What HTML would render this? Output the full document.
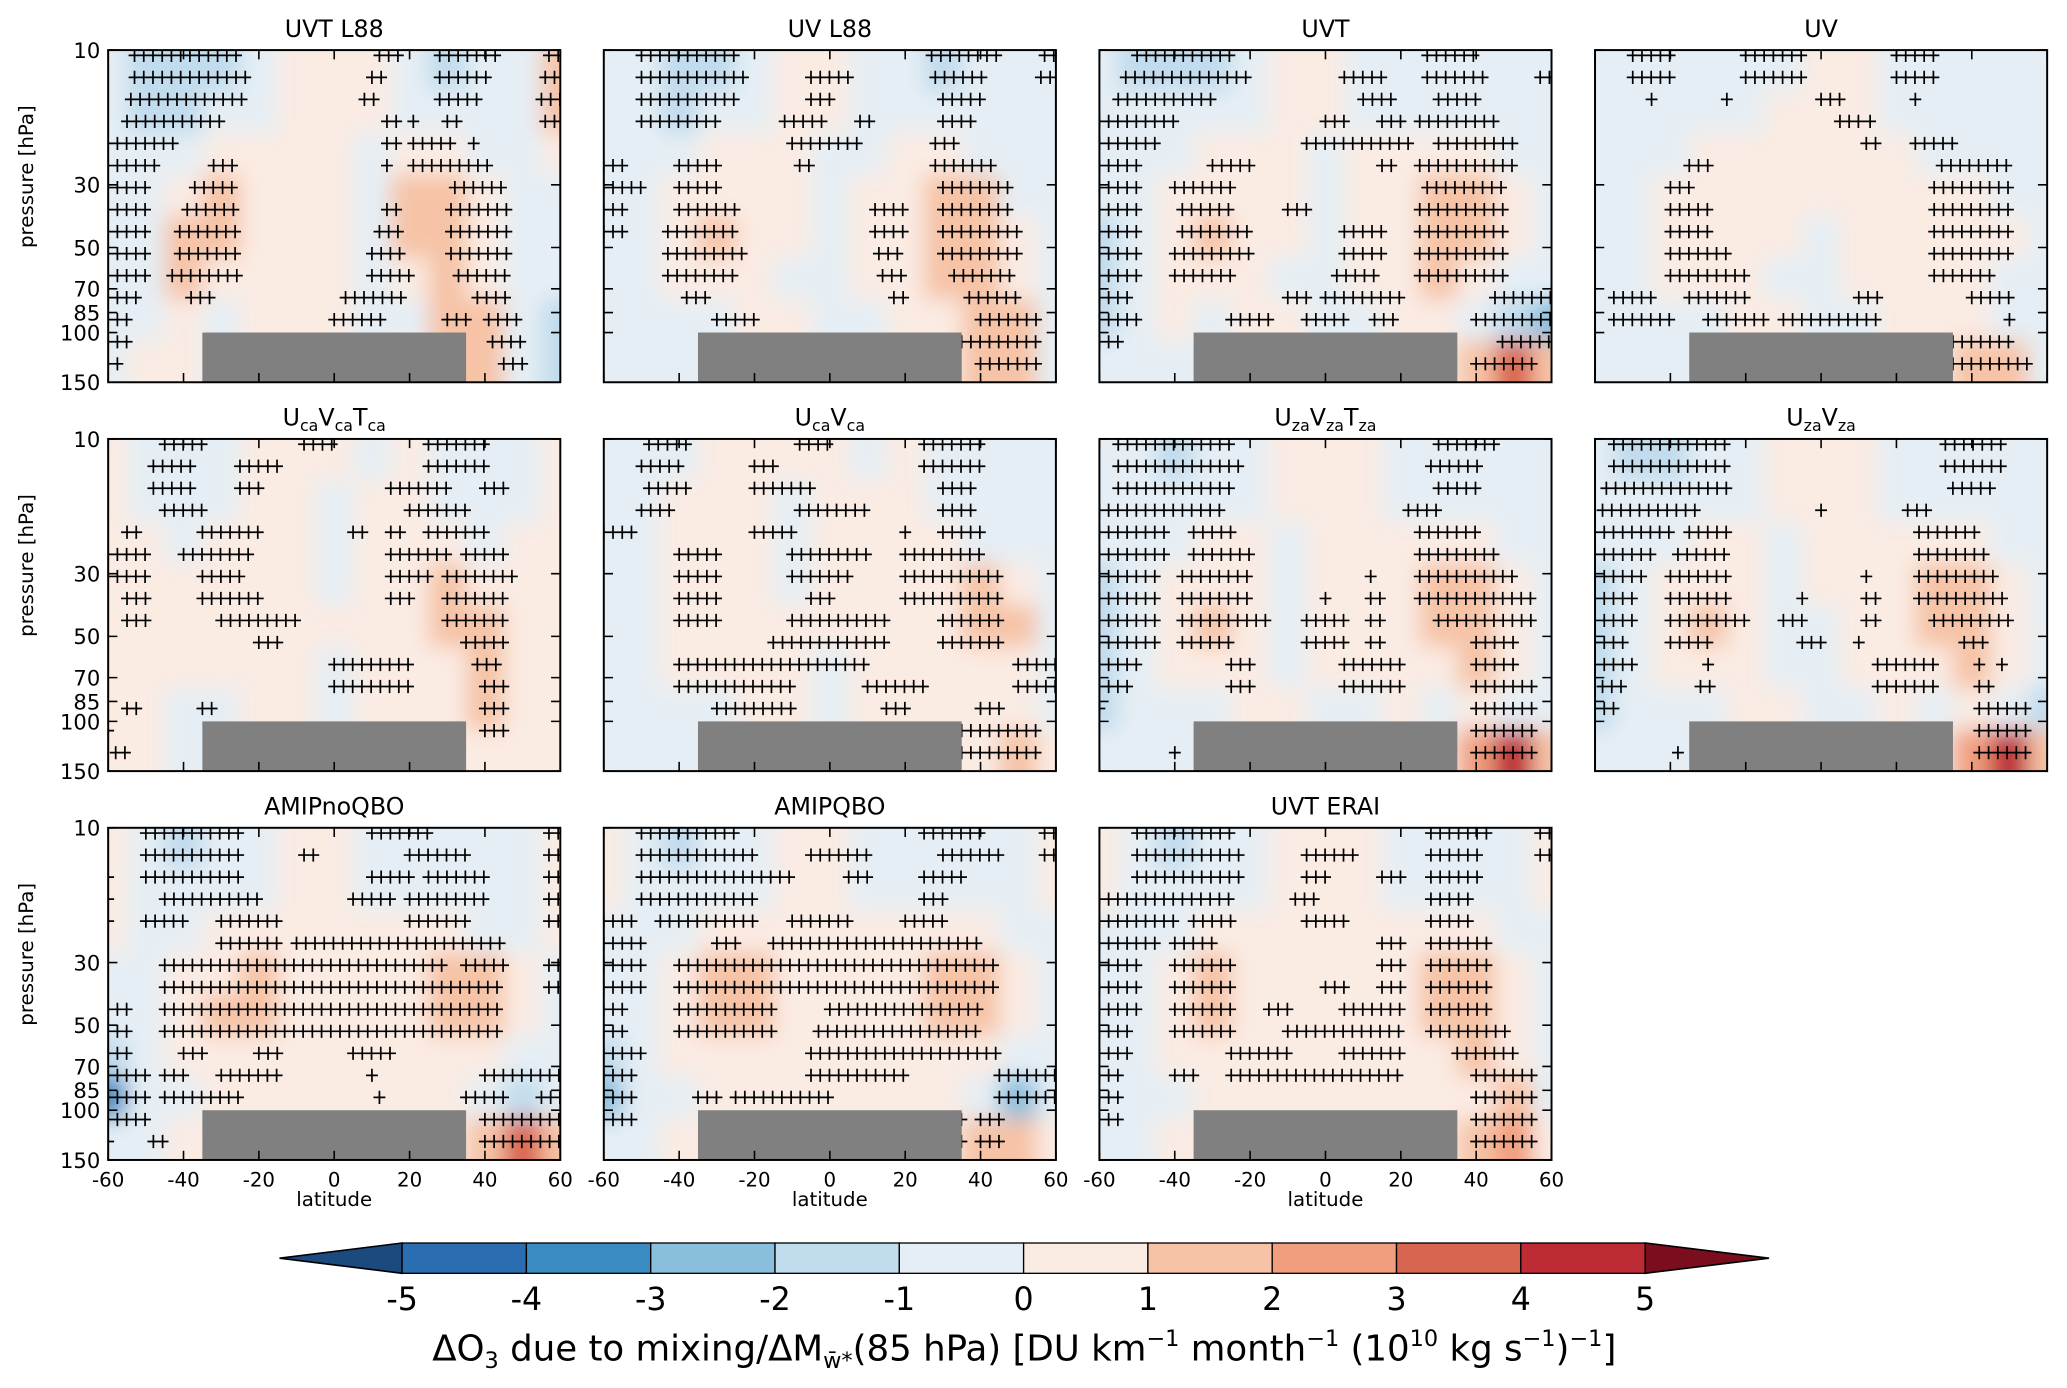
<!DOCTYPE html>
<html><head><meta charset="utf-8"><style>
html,body{margin:0;padding:0;background:#fff;}
svg{display:block;}
text{font-family:"DejaVu Sans","Liberation Sans",sans-serif;fill:#000;}
</style></head><body>
<svg id="fig" width="2067" height="1388" viewBox="0 0 1568 1053" xmlns="http://www.w3.org/2000/svg">
<defs>
<filter id="blur" x="-10%" y="-10%" width="120%" height="120%"><feGaussianBlur stdDeviation="8"/></filter>
</defs>
<g id="panels"></g>
<g id="cbar"></g>
</svg>
<script>
// ---- data ----
const panelTitles = ["UVT L88","UV L88","UVT","UV","UcaVcaTca","UcaVca","UzaVzaTza","UzaVza","AMIPnoQBO","AMIPQBO","UVT ERAI"];
const latCenters = [-60,-50,-40,-30,-20,-10,0,10,20,30,40,50,60];
const yTicks = [10,30,50,70,85,100,150];
const xTicks = [-60,-40,-20,0,20,40,60];
const cbLevels = [-5,-4,-3,-2,-1,0,1,2,3,4,5];
const cbColors = ["#2a6db0","#3b8cc3","#8abedd","#c1dced","#e5eef4","#faebe3","#f6c3a6","#f09e7d","#d8654f","#bd2b35"];
const cbUnder = "#1b4a7e", cbOver = "#7a0e1f";
const maskLat = [-35,35];
// fields: 8 pressure bands (top->bottom) x 13 latitudes
const field1 = [[-1,-1.5,-2,-1.5,-0.5,0.5,0.5,0.5,-0.5,-1.5,-1,-0.5,1],[-1,-1.5,-1.5,-1,-0.5,0.5,0.5,0.5,-0.5,-1,-0.5,-0.5,1],[-1,-1,-0.5,0.5,0.5,0.5,0.5,-0.5,0.5,0.5,-0.5,-0.5,0.5],[-1,-0.5,0.5,1,0.5,0.5,0.5,-0.5,1.4,1.5,0.5,-0.5,-0.5],[-1,-0.5,1.5,1.5,0.5,0.5,0.5,-0.5,1.5,1.6,0.5,-0.5,-0.5],[-1,-0.5,1.3,0.5,0.5,0.5,0.5,-0.5,0.5,1.5,0.5,-0.5,-1],[-1,-0.5,0.5,-0.5,0.5,0.5,0.5,-0.5,-0.5,1.3,1.3,-0.5,-1.5],[-1,0.5,0.5,-0.5,0.5,0.5,0.5,-0.5,0.5,1.2,1.2,-0.5,-1.5]];
const field2 = [[-0.5,-1,-1.5,-1.5,-0.5,0.5,0.5,-0.5,-0.5,-1.2,-1,-0.5,-0.5],[-0.5,-1,-1.2,-1,-0.5,0.5,0.5,-0.5,-0.5,-1,-0.5,-0.5,-0.5],[-0.5,-0.5,-0.5,0.5,0.5,0.5,-0.5,-0.5,0.5,0.5,-0.5,-0.5,-0.5],[-0.5,-0.5,0.5,0.5,0.5,0.5,-0.5,0.5,0.5,1.3,1.3,-0.5,-0.5],[-0.5,-0.5,0.5,1.2,0.5,0.5,-0.5,0.5,0.5,1.5,1.4,0.5,-0.5],[-0.5,-0.5,0.5,0.5,0.5,-0.5,-0.5,0.5,0.5,1.4,1.6,0.5,-0.5],[-0.5,-0.5,-0.5,-0.5,0.5,0.5,-0.5,-0.5,0.5,0.5,1.8,1.5,-0.5],[-0.5,-0.5,-0.5,-0.5,0.5,0.5,-0.5,-0.5,0.5,0.5,1.6,1.5,-0.5]];
const field3 = [[-0.5,-1.2,-1.5,-1.2,-0.5,0.5,0.5,-0.5,-0.5,-1,-1,-0.5,-0.5],[-0.5,-1,-1,-0.5,-0.5,0.5,0.5,-0.5,-0.5,-0.5,-0.5,-0.5,-0.5],[-1,-0.5,-0.5,0.5,0.5,0.5,-0.5,0.5,0.5,0.5,0.5,-0.5,-0.5],[-1,-0.5,0.5,0.5,0.5,0.5,-0.5,0.5,0.5,1.5,1.3,0.5,-0.5],[-1.2,-0.5,0.5,1.2,0.5,0.5,-0.5,0.5,0.5,1.7,1.4,0.5,-0.5],[-1.3,-0.5,0.5,0.5,0.5,-0.5,-0.5,0.5,0.5,1.3,0.5,-0.5,-1],[-1.5,-0.5,0.5,-0.5,0.5,0.5,-0.5,-0.5,0.5,0.5,-0.5,-1.5,-2.5],[-1,-0.5,-0.5,-0.5,0.5,0.5,-0.5,-0.5,0.5,0.5,1.5,3.8,1]];
const field4 = [[-0.5,-0.5,-1,-1,-0.5,-0.5,0.5,0.5,-0.5,-1,-0.5,-0.5,-0.5],[-0.5,-0.5,-0.5,-0.5,-0.5,0.5,0.5,0.5,-0.5,-0.5,-0.5,-0.5,-0.5],[-0.5,-0.5,-0.5,0.5,0.5,0.5,0.5,0.5,0.5,-0.5,-0.5,-0.5,-0.5],[-0.5,-0.5,0.5,0.5,0.5,0.5,0.5,0.5,0.5,0.5,0.5,-0.5,-0.5],[-0.5,-0.5,0.5,0.5,0.5,0.5,-0.5,0.5,0.5,0.5,0.5,0.5,-0.5],[-0.5,-0.5,0.5,0.5,0.5,-0.5,-0.5,0.5,0.5,0.5,0.5,-0.5,-0.5],[-0.5,-0.5,-0.5,-0.5,0.5,0.5,-0.5,-0.5,0.5,0.5,0.5,-0.5,-0.5],[-0.5,-0.5,-0.5,-0.5,0.5,0.5,-0.5,-0.5,0.5,0.5,1.2,1.2,-0.5]];
const field5 = [[0.5,-0.5,-0.5,-0.5,0.5,0.5,0.5,-0.5,0.5,-0.5,-0.5,-0.5,0.5],[0.5,-0.5,-0.5,-0.5,0.5,0.5,-0.5,0.5,0.5,-0.5,-0.5,-0.5,0.5],[0.5,0.5,-0.5,0.5,0.5,0.5,-0.5,0.5,0.5,0.5,-0.5,0.5,0.5],[0.5,0.5,0.5,0.5,0.5,0.5,-0.5,0.5,0.5,1.2,0.5,0.5,0.5],[0.5,0.5,0.5,0.5,0.5,0.5,0.5,0.5,0.5,1.2,1.2,0.5,0.5],[0.5,0.5,0.5,0.5,0.5,0.5,-0.5,0.5,0.5,0.5,1.2,0.5,0.5],[0.5,0.5,-0.5,-0.5,0.5,0.5,-0.5,0.5,0.5,0.5,1.2,0.5,0.5],[0.5,0.5,-0.5,-0.5,0.5,0.5,-0.5,0.5,0.5,0.5,0.5,0.5,0.5]];
const field6 = [[-0.5,-0.5,-0.5,0.5,0.5,0.5,0.5,-0.5,0.5,-0.5,-0.5,-0.5,-0.5],[-0.5,-0.5,0.5,0.5,0.5,-0.5,0.5,0.5,0.5,-0.5,-0.5,-0.5,-0.5],[-0.5,-0.5,0.5,0.5,0.5,-0.5,0.5,0.5,0.5,0.5,-0.5,-0.5,-0.5],[-0.5,-0.5,0.5,0.5,0.5,-0.5,0.5,0.5,0.5,0.5,1.2,0.5,-0.5],[-0.5,-0.5,0.5,0.5,0.5,0.5,0.5,0.5,0.5,0.5,1.3,1.2,-0.5],[-0.5,-0.5,0.5,0.5,0.5,0.5,-0.5,0.5,0.5,0.5,0.5,0.5,-0.5],[-0.5,-0.5,-0.5,-0.5,0.5,0.5,-0.5,0.5,0.5,0.5,0.5,0.5,-1],[-0.5,-0.5,-0.5,-0.5,0.5,0.5,-0.5,0.5,0.5,0.5,0.5,1.2,0.5]];
const field7 = [[-0.5,-1,-1.2,-0.5,-0.5,0.5,0.5,0.5,-0.5,-0.5,-0.5,-0.5,-0.5],[-0.5,-1,-1,-0.5,-0.5,0.5,0.5,0.5,-0.5,-0.5,-0.5,-0.5,-0.5],[-1,-0.5,-0.5,0.5,0.5,-0.5,0.5,0.5,0.5,0.5,0.5,-0.5,-0.5],[-1.2,-0.5,0.5,0.5,0.5,-0.5,0.5,0.5,0.5,1.2,1.2,0.5,-0.5],[-1.2,-0.5,0.5,1.2,0.5,-0.5,0.5,0.5,0.5,1.3,1.3,0.5,-0.5],[-1.5,-0.5,0.5,0.5,0.5,-0.5,0.5,0.5,0.5,0.5,1.2,0.5,-0.5],[-1.5,-0.5,-0.5,-0.5,0.5,0.5,-0.5,-0.5,0.5,-0.5,0.5,-0.5,-1],[-0.5,-0.5,-0.5,-0.5,0.5,0.5,-0.5,-0.5,0.5,0.5,2.5,4.3,1.5]];
const field8 = [[-0.5,-1.2,-1.3,-0.5,-0.5,0.5,0.5,0.5,-0.5,-0.5,-0.5,-0.5,-0.5],[-0.5,-1,-1,-0.5,-0.5,0.5,0.5,0.5,-0.5,-0.5,-0.5,-0.5,-0.5],[-1,-0.5,-0.5,0.5,0.5,-0.5,0.5,0.5,0.5,0.5,0.5,-0.5,-0.5],[-1.2,-0.5,0.5,0.5,0.5,-0.5,0.5,0.5,0.5,1.2,1.3,0.5,-0.5],[-1.5,-0.5,0.5,1.3,0.5,-0.5,-0.5,0.5,0.5,1.3,1.4,0.5,-0.5],[-1.8,-0.5,0.5,0.5,0.5,-0.5,-0.5,0.5,0.5,0.5,1.2,0.5,-0.5],[-1.6,-0.5,-0.5,-0.5,0.5,0.5,-0.5,-0.5,0.5,-0.5,0.5,-0.5,-1.5],[-0.5,-0.5,-0.5,-0.5,0.5,0.5,-0.5,-0.5,0.5,0.5,2.5,4.3,1.5]];
const field9 = [[0.5,-0.5,-1.2,-1,-0.5,0.5,0.5,-0.5,-0.5,-1,-0.5,-0.5,0.5],[0.5,-0.5,-1,-0.5,-0.5,0.5,0.5,-0.5,-0.5,-0.5,-0.5,-0.5,0.5],[0.5,-0.5,-0.5,0.5,0.5,0.5,0.5,0.5,0.5,0.5,-0.5,-0.5,0.5],[-0.5,-0.5,0.5,0.5,1.2,0.5,0.5,0.5,0.5,1.2,1.2,0.5,-0.5],[-0.5,-0.5,0.5,1.3,1.2,0.5,0.5,0.5,0.5,1.2,1.2,0.5,-0.5],[-2,-0.5,0.5,0.5,0.5,0.5,0.5,0.5,0.5,0.5,0.5,-0.5,-0.5],[-3.5,-1,-0.5,0.5,0.5,0.5,0.5,0.5,0.5,0.5,-1,-1.5,-0.5],[-0.5,-0.5,0.5,0.5,0.5,0.5,0.5,0.5,0.5,0.5,1.5,3.8,1]];
const field10 = [[0.5,-0.5,-1.2,-1,-0.5,0.5,0.5,-0.5,-0.5,-1,-1,-0.5,0.5],[0.5,-0.5,-1,-0.5,-0.5,0.5,0.5,-0.5,-0.5,-0.5,-0.5,-0.5,0.5],[-0.5,-0.5,-0.5,0.5,0.5,0.5,0.5,0.5,0.5,0.5,0.5,-0.5,-0.5],[-0.5,-0.5,0.5,1.2,1.2,0.5,0.5,0.5,0.5,1.2,1.3,0.5,-0.5],[-0.5,-0.5,0.5,1.3,1.2,0.5,0.5,0.5,0.5,1.2,1.2,0.5,-0.5],[-1.5,-0.5,0.5,0.5,0.5,0.5,0.5,0.5,0.5,0.5,0.5,-0.5,-0.5],[-3,-1,-0.5,0.5,0.5,0.5,0.5,0.5,0.5,0.5,-1,-3,-1],[-0.5,-0.5,0.5,0.5,0.5,0.5,0.5,0.5,0.5,0.5,1.2,1.5,0.5]];
const field11 = [[0.5,-0.5,-1.2,-1,-0.5,0.5,0.5,0.5,-0.5,-1,-1,-0.5,0.5],[0.5,-0.5,-1,-0.5,-0.5,0.5,0.5,0.5,-0.5,-0.5,-0.5,-0.5,0.5],[-0.5,-0.5,-0.5,0.5,0.5,0.5,0.5,0.5,0.5,0.5,0.5,-0.5,-0.5],[-0.5,-0.5,0.5,1.2,0.5,0.5,0.5,0.5,0.5,1.3,1.3,0.5,-0.5],[-0.5,-0.5,0.5,1.3,0.5,0.5,0.5,0.5,0.5,1.3,1.4,0.5,-0.5],[-1,-0.5,0.5,0.5,0.5,0.5,0.5,0.5,0.5,0.5,1.2,0.5,-0.5],[-1,-0.5,-0.5,0.5,0.5,0.5,0.5,0.5,0.5,0.5,0.5,1.2,-0.5],[-0.5,-0.5,0.5,0.5,0.5,0.5,0.5,0.5,0.5,0.5,1.3,2.2,0.5]];
// significance hatching: [row, latStart, latEnd]
const hatch1 = [[0,-53,-24],[0,12,17],[0,28,45],[0,57,60],[1,-53,-22],[1,10,14],[1,28,41],[1,56,60],[2,-54,-24],[2,8,11],[2,28,38],[2,55,60],[3,-55,-29],[3,14,18],[3,21,23],[3,30,34],[3,56,60],[4,-60,-42],[4,14,18],[4,21,32],[4,37,37],[5,-60,-47],[5,-32,-25],[5,14,16],[5,21,41],[6,-60,-48],[6,-37,-26],[6,32,46],[7,-60,-48],[7,-39,-26],[7,14,18],[7,31,47],[8,-60,-49],[8,-41,-26],[8,12,18],[8,31,47],[9,-60,-49],[9,-41,-24],[9,10,18],[9,31,47],[10,-60,-50],[10,-43,-24],[10,10,20],[10,33,47],[11,-60,-52],[11,-38,-31],[11,3,18],[11,38,47],[12,-60,-54],[12,0,14],[12,30,35],[12,41,50],[13,-60,-54],[13,42,50],[14,-60,-56],[14,45,50]];
const hatch2 = [[0,-50,-25],[0,27,45],[0,57,60],[1,-50,-22],[1,-5,5],[1,28,42],[1,56,60],[2,-50,-25],[2,-5,2],[2,30,40],[3,-50,-30],[3,-12,-2],[3,8,12],[3,30,38],[4,-10,8],[4,28,33],[5,-60,-53],[5,-40,-30],[5,-8,-4],[5,28,45],[6,-60,-50],[6,-40,-28],[6,30,48],[7,-60,-55],[7,-40,-25],[7,12,20],[7,30,48],[8,-60,-55],[8,-43,-25],[8,12,20],[8,30,50],[9,-43,-22],[9,13,20],[9,30,50],[10,-43,-25],[10,14,20],[10,33,50],[11,-38,-32],[11,17,21],[11,37,50],[12,-30,-18],[12,40,55],[13,35,55],[14,40,55]];
const hatch3 = [[0,-50,-25],[0,27,40],[1,-53,-20],[1,5,15],[1,27,42],[1,57,60],[2,-55,-30],[2,10,18],[2,30,40],[3,-60,-40],[3,0,5],[3,15,20],[3,25,45],[4,-60,-45],[4,-5,22],[4,30,50],[5,-60,-48],[5,-30,-20],[5,15,18],[5,25,50],[6,-60,-48],[6,-40,-25],[6,27,48],[7,-60,-50],[7,-38,-25],[7,-10,-5],[7,25,48],[8,-60,-50],[8,-38,-20],[8,5,15],[8,25,48],[9,-60,-50],[9,-40,-18],[9,5,15],[9,25,48],[10,-60,-48],[10,-40,-25],[10,3,15],[10,25,48],[11,-60,-52],[11,-10,-5],[11,0,20],[11,45,60],[12,-60,-50],[12,-25,-15],[12,-5,5],[12,13,20],[12,40,60],[13,-60,-55],[13,47,60],[14,40,55]];
const hatch4 = [[0,-50,-40],[0,-20,-5],[0,20,30],[1,-50,-40],[1,-20,-5],[1,20,30],[2,-45,-44],[2,-25,-24],[2,0,5],[2,25,26],[3,5,10],[3,13,15],[4,12,15],[4,25,35],[5,-35,-30],[5,32,50],[6,-40,-35],[6,30,50],[7,-40,-30],[7,30,50],[8,-40,-30],[8,30,50],[9,-40,-25],[9,30,50],[10,-40,-20],[10,30,45],[11,-55,-45],[11,-35,-20],[11,10,15],[11,40,50],[12,-55,-40],[12,-30,-15],[12,-10,15],[12,50,52],[13,35,50],[14,35,55]];
const hatch5 = [[0,-45,-35],[0,-8,0],[0,25,40],[1,-48,-38],[1,-25,-15],[1,25,40],[2,-48,-38],[2,-25,-20],[2,15,30],[2,40,45],[3,-45,-35],[3,20,35],[4,-55,-52],[4,-35,-20],[4,5,8],[4,15,18],[4,25,40],[5,-60,-50],[5,-40,-22],[5,15,30],[5,35,45],[6,-60,-50],[6,-35,-25],[6,15,25],[6,30,48],[7,-55,-50],[7,-35,-20],[7,15,22],[7,30,45],[8,-55,-50],[8,-30,-8],[8,30,45],[9,-20,-15],[9,35,45],[10,0,20],[10,38,45],[11,0,20],[11,40,45],[12,-55,-52],[12,-35,-32],[12,40,45],[13,-60,-58],[13,40,45],[14,-58,-55]];
const hatch6 = [[0,-48,-38],[0,-8,0],[0,25,40],[1,-50,-38],[1,-20,-15],[1,25,40],[2,-48,-38],[2,-20,-5],[2,30,38],[3,-50,-42],[3,-8,10],[3,30,38],[4,-60,-52],[4,-20,-10],[4,20,22],[4,30,40],[5,-40,-30],[5,-10,10],[5,20,40],[6,-40,-30],[6,-10,5],[6,20,45],[7,-40,-30],[7,-5,0],[7,20,45],[8,-40,-30],[8,-10,15],[8,30,45],[9,-15,15],[9,30,45],[10,-40,10],[10,50,60],[11,-40,-10],[11,10,25],[11,50,60],[12,-30,-10],[12,15,22],[12,40,45],[13,35,55],[14,35,55]];
const hatch7 = [[0,-55,-25],[0,30,45],[1,-55,-22],[1,28,42],[2,-55,-25],[2,30,40],[3,-60,-28],[3,22,30],[4,-60,-42],[4,-35,-25],[4,25,40],[5,-60,-42],[5,-35,-20],[5,25,45],[6,-60,-45],[6,-38,-20],[6,12,13],[6,25,50],[7,-60,-45],[7,-38,-20],[7,0,2],[7,12,15],[7,25,55],[8,-60,-45],[8,-38,-15],[8,-5,5],[8,12,15],[8,30,55],[9,-60,-45],[9,-38,-25],[9,-5,5],[9,12,15],[9,40,50],[10,-60,-50],[10,-25,-20],[10,5,20],[10,40,50],[11,-60,-52],[11,-25,-20],[11,5,20],[11,40,55],[12,-60,-58],[12,40,55],[13,40,55],[14,-40,-40],[14,40,55]];
const hatch8 = [[0,-55,-25],[0,33,48],[1,-55,-25],[1,33,48],[2,-57,-25],[2,35,45],[3,-58,-32],[3,0,1],[3,23,30],[4,-60,-40],[4,-35,-25],[4,26,42],[5,-60,-45],[5,-38,-25],[5,26,45],[6,-60,-47],[6,-40,-25],[6,12,13],[6,26,48],[7,-60,-48],[7,-40,-25],[7,-5,-5],[7,12,15],[7,26,50],[8,-60,-50],[8,-40,-20],[8,-10,-3],[8,12,15],[8,30,50],[9,-60,-52],[9,-40,-30],[9,-5,0],[9,10,10],[9,38,45],[10,-60,-50],[10,-30,-28],[10,15,30],[10,42,42],[10,48,48],[11,-58,-52],[11,-32,-28],[11,15,30],[11,42,45],[12,-60,-55],[12,42,55],[13,42,55],[14,-38,-38],[14,42,55]];
const hatch9 = [[0,-50,-25],[0,10,25],[0,57,60],[1,-50,-25],[1,-8,-5],[1,20,35],[1,57,60],[2,-60,-58],[2,-50,-25],[2,10,20],[2,25,40],[2,57,60],[3,-60,-58],[3,-45,-20],[3,5,15],[3,20,40],[3,57,60],[4,-60,-58],[4,-50,-40],[4,-30,-15],[4,20,35],[4,57,60],[5,-30,-15],[5,-10,45],[6,-45,30],[6,35,45],[6,57,60],[7,-45,45],[7,57,60],[8,-60,-55],[8,-45,45],[9,-60,-55],[9,-45,45],[10,-60,-55],[10,-40,-35],[10,-20,-15],[10,5,15],[11,-60,-50],[11,-45,-40],[11,-30,-15],[11,10,10],[11,40,60],[12,-60,-50],[12,-45,-30],[12,-28,-25],[12,12,12],[12,35,45],[12,55,60],[13,-60,-50],[13,40,60],[14,-60,-58],[14,-48,-45],[14,40,60]];
const hatch10 = [[0,-50,-25],[0,25,40],[0,57,60],[1,-50,-20],[1,-5,10],[1,30,45],[1,57,60],[2,-50,-10],[2,5,10],[2,25,35],[3,-50,-20],[3,25,30],[4,-60,-52],[4,-45,-20],[4,-10,5],[4,20,30],[5,-60,-50],[5,-30,-25],[5,-15,40],[6,-60,-50],[6,-40,45],[7,-60,-50],[7,-40,45],[8,-60,-55],[8,-40,-15],[8,0,40],[9,-60,-55],[9,-40,-15],[9,-3,40],[10,-60,-50],[10,-5,45],[11,-60,-52],[11,-5,20],[11,45,60],[12,-60,-52],[12,-35,-30],[12,-25,0],[12,45,60],[13,-60,-52],[13,30,35],[13,40,45],[14,30,35],[14,40,45]];
const hatch11 = [[0,-50,-25],[0,28,45],[0,57,60],[1,-50,-22],[1,-5,8],[1,28,42],[1,57,60],[2,-50,-22],[2,-5,2],[2,15,20],[2,28,42],[3,-60,-25],[3,-8,-3],[3,28,40],[4,-60,-40],[4,-35,-25],[4,-5,5],[4,28,40],[5,-60,-45],[5,-40,-30],[5,15,20],[5,28,45],[6,-60,-48],[6,-40,-25],[6,15,20],[6,28,45],[7,-60,-48],[7,-40,-25],[7,0,5],[7,15,20],[7,28,45],[8,-60,-50],[8,-40,-25],[8,-15,-10],[8,5,20],[8,28,45],[9,-60,-52],[9,-40,-25],[9,-10,20],[9,28,50],[10,-60,-52],[10,-25,-10],[10,5,20],[10,35,50],[11,-60,-55],[11,-40,-35],[11,-25,20],[11,40,55],[12,-60,-55],[12,40,55],[13,-60,-55],[13,40,55],[14,40,55]];

const fields = [field1,field2,field3,field4,field5,field6,field7,field8,field9,field10,field11];
const hatches = [hatch1,hatch2,hatch3,hatch4,hatch5,hatch6,hatch7,hatch8,hatch9,hatch10,hatch11];

// ---- layout ----
const NS = "http://www.w3.org/2000/svg";
const colX = [82,458,834,1210], rowY = [38,333,628], PW = 343, PH = 252;
function el(tag, attrs, parent){const e=document.createElementNS(NS,tag);for(const k in attrs)e.setAttribute(k,attrs[k]);if(parent)parent.appendChild(e);return e;}
function colorFor(v){ if(v<cbLevels[0])return cbUnder; if(v>=cbLevels[cbLevels.length-1])return cbOver; for(let i=0;i<cbColors.length;i++){ if(v>=cbLevels[i]&&v<cbLevels[i+1]) return cbColors[i]; } return cbOver; }
const root = document.getElementById('panels');

panelTitles.forEach((title, pi) => {
  const x0 = colX[pi%4], y0 = rowY[Math.floor(pi/4)];
  const xS = lat => x0 + (lat+60)/120*PW;
  const yS = p => y0 + Math.log(p/10)/Math.log(15)*PH;
  const g = el('g', {}, root);
  
  
  const cid = 'clip'+pi;
  const cp = el('clipPath', {id:cid}, g); el('rect',{x:x0,y:y0,width:PW,height:PH},cp);
  const fg = el('g', {'clip-path':'url(#'+cid+')'}, g);
  el('rect',{x:x0,y:y0,width:PW,height:PH,fill:'#f3ece8'},fg);
  const hg = el('g', {filter:'url(#blur)'}, fg);
  const f = fields[pi], nb = f.length, bh = PH/nb, cw = 10/120*PW;
  f.forEach((row, ri) => row.forEach((v, ci) => {
    const ext = (ri===0?-20:0), extB = (ri===nb-1?20:0);
    const r = el('rect',{x:xS(latCenters[ci])-cw/2-(ci===0?20:0),y:y0+ri*bh+ext,width:cw+(ci===0||ci===12?20:0)+0.5,height:bh-ext+extB+0.5,fill:colorFor(v)},hg);
    
    
  }));
  // hatching
  const hp = [];
  const rowStep = (PH-8)/14.6;
  hatches[pi].forEach(([r, a, b]) => {
    const yy = y0 + 4 + r*rowStep;
    for(let lat=a; lat<=b+0.01; lat+=2.45){ const xx=xS(lat); hp.push(`M${(xx-4.5).toFixed(1)} ${yy.toFixed(1)}h9M${xx.toFixed(1)} ${(yy-5).toFixed(1)}v10`); }
  });
  const hatchPath = el('path',{d:hp.join(''),stroke:'#000','stroke-width':1.3,fill:'none'},fg);
  
  
  // gray mask
  const gr = el('rect',{x:xS(maskLat[0]),y:yS(100),width:xS(maskLat[1])-xS(maskLat[0]),height:yS(150)-yS(100),fill:'#808080'},g);
  
  
  // ticks
  const tk=[];
  yTicks.forEach(p=>{const yy=yS(p);tk.push(`M${x0} ${yy}h7M${x0+PW} ${yy}h-7`);});
  xTicks.forEach(l=>{const xx=xS(l);tk.push(`M${xx} ${y0}v7M${xx} ${y0+PH}v-7`);});
  el('path',{d:tk.join(''),stroke:'#000','stroke-width':1.2,fill:'none'},g);
  const frame = el('rect',{x:x0,y:y0,width:PW,height:PH,fill:'none',stroke:'#000','stroke-width':1.5},g);
  
  
  // title
  const t = el('text',{x:x0+PW/2,y:y0-10,'text-anchor':'middle','font-size':18},g);
  
  
  const m = title.match(/^U(ca|za)V(ca|za)(T(ca|za))?$/);
  if(m){ const parts = m[3]?['U',m[1],'V',m[2],'T',m[4]]:['U',m[1],'V',m[2]];
    parts.forEach((s,i)=>{const ts=el('tspan',{},t); ts.textContent=s; if(i%2===1){ts.setAttribute('font-size',12);ts.setAttribute('dy',4);} else if(i>0){ts.setAttribute('dy',-4);} });
  } else t.textContent = title;
  // y labels
  if(pi%4===0){
    yTicks.forEach(p=>{const tt=el('text',{x:x0-6,y:yS(p)+6,'text-anchor':'end','font-size':16},g); tt.textContent=p;
       });
    const yl=el('text',{x:0,y:0,transform:`translate(${x0-57},${y0+PH/2-30}) rotate(-90)`,'text-anchor':'middle','font-size':15},g);
    yl.textContent='pressure [hPa]';
     
  }
  if(pi>=8){
    xTicks.forEach(l=>{const tt=el('text',{x:xS(l),y:y0+PH+20,'text-anchor':'middle','font-size':15},g); tt.textContent=l;
       });
    const xl=el('text',{x:x0+PW/2,y:y0+PH+35,'text-anchor':'middle','font-size':15},g); xl.textContent='latitude';
     
  }
});

// colorbar
const cb = document.getElementById('cbar');
const cbX0=305, cbX1=1248, cbY=943, cbH=23;
const cbS = v => cbX0 + (v-cbLevels[0])/(cbLevels[cbLevels.length-1]-cbLevels[0])*(cbX1-cbX0);
const under = el('path',{d:`M${cbX0} ${cbY}L212 ${cbY+cbH/2}L${cbX0} ${cbY+cbH}Z`,fill:cbUnder,stroke:'#000','stroke-width':1.2},cb);
 
const over = el('path',{d:`M${cbX1} ${cbY}L1342 ${cbY+cbH/2}L${cbX1} ${cbY+cbH}Z`,fill:cbOver,stroke:'#000','stroke-width':1.2},cb);
 
cbColors.forEach((c,i)=>{const r=el('rect',{x:cbS(cbLevels[i]),y:cbY,width:cbS(cbLevels[i+1])-cbS(cbLevels[i]),height:cbH,fill:c,stroke:'#000','stroke-width':1},cb);
   });
cbLevels.forEach(v=>{const t=el('text',{x:cbS(v),y:994,'text-anchor':'middle','font-size':24},cb); t.textContent=(v<0?'-'+(-v):v);
   });
const lab = el('text',{x:777,y:1032,'text-anchor':'middle','font-size':27},cb);
 
lab.innerHTML = 'ΔO<tspan font-size="17" dy="6">3</tspan><tspan dy="-6"> due to mixing/ΔM</tspan><tspan font-size="17" dy="6">w̄*</tspan><tspan dy="-6">(85 hPa) [DU km</tspan><tspan font-size="17" dy="-11">−1</tspan><tspan dy="11"> month</tspan><tspan font-size="17" dy="-11">−1</tspan><tspan dy="11"> (10</tspan><tspan font-size="17" dy="-11">10</tspan><tspan dy="11"> kg s</tspan><tspan font-size="17" dy="-11">−1</tspan><tspan dy="11">)</tspan><tspan font-size="17" dy="-11">−1</tspan><tspan dy="11">]</tspan>';
</script>
</body></html>
